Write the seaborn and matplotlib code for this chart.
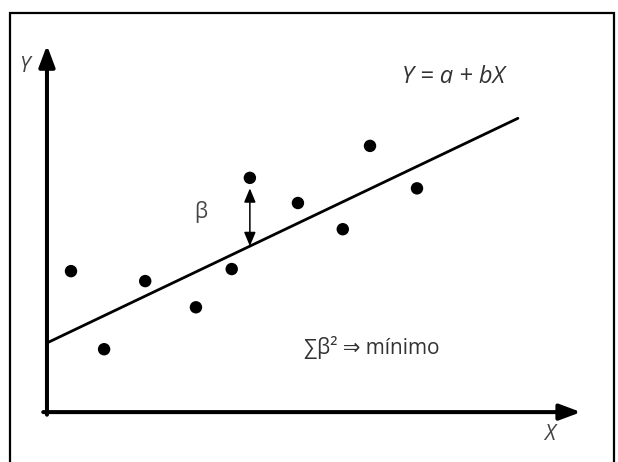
import numpy as np
import pandas as pd
import seaborn as sns
import matplotlib.pyplot as plt
from matplotlib.patches import Rectangle

# --- data (axis units, origin at the axes corner) ---
point_x = [0.45, 1.07, 1.84, 2.79, 3.46, 3.80, 4.70, 5.54, 6.05, 6.93]
point_y = [2.69, 1.20, 2.50, 2.00, 2.73, 4.47, 3.99, 3.49, 5.08, 4.27]

# fitted line Y = a + bX, drawn from X=0 to line_end
intercept_a = 1.32
slope_b = 0.486
line_end = 8.82

# the residual that gets the double arrow
beta_index = 5

sns.set_style("white")
plt.rcParams["font.family"] = ["Open Sans", "DejaVu Sans"]

fig = plt.figure(figsize=(6.18, 4.62), dpi=100)
ax = fig.add_axes([0.076, 0.108, 0.864, 0.794])
ax.set_xlim(0, 10)
ax.set_ylim(0, 7)
ax.axis("off")

# frame round the picture
fig.patches.append(
    Rectangle((10 / 618, -0.1), 604 / 618, 1.072, transform=fig.transFigure,
              fill=False, edgecolor="black", linewidth=1.6)
)

# axes drawn as arrows
arrow_kw = dict(arrowstyle="-|>,head_length=0.8,head_width=0.3", color="black",
                lw=2.9, shrinkA=0, shrinkB=0, mutation_scale=16)
ax.annotate("", xy=(10, 0), xytext=(-0.07, 0), arrowprops=arrow_kw, annotation_clip=False)
ax.annotate("", xy=(0, 7), xytext=(0, -0.05), arrowprops=arrow_kw, annotation_clip=False)

# regression line
line_df = pd.DataFrame({"x": [0, line_end]})
line_df["y"] = intercept_a + slope_b * line_df["x"]
sns.lineplot(data=line_df, x="x", y="y", color="black", linewidth=2.0, ax=ax)

# observations
points = pd.DataFrame({"x": point_x, "y": point_y})
sns.scatterplot(data=points, x="x", y="y", color="black", s=80, edgecolor="none", ax=ax)

# residual arrow
bx = point_x[beta_index]
by = point_y[beta_index]
ax.annotate("", xy=(bx, by - 0.2), xytext=(bx, intercept_a + slope_b * bx),
            arrowprops=dict(arrowstyle="<|-|>,head_length=0.6,head_width=0.25",
                            color="black", lw=1.1, shrinkA=0, shrinkB=0,
                            mutation_scale=14))

# labels
ax.text(-0.43, 6.6, "Y", fontsize=15, style="italic", color="#444444",
        ha="center", va="center")
ax.text(9.42, -0.43, "X", fontsize=15, style="italic", color="#444444",
        ha="center", va="center")
ax.text(7.62, 6.40, "Y = a + bX", fontsize=17, style="italic", color="#333333",
        ha="center", va="center")
ax.text(2.88, 3.82, "β", fontsize=15, color="#444444", ha="center", va="center")
ax.text(6.09, 1.23, "∑β² ⇒ mínimo", fontsize=15, color="#333333",
        ha="center", va="center")

fig.savefig("out.png", dpi=100)
